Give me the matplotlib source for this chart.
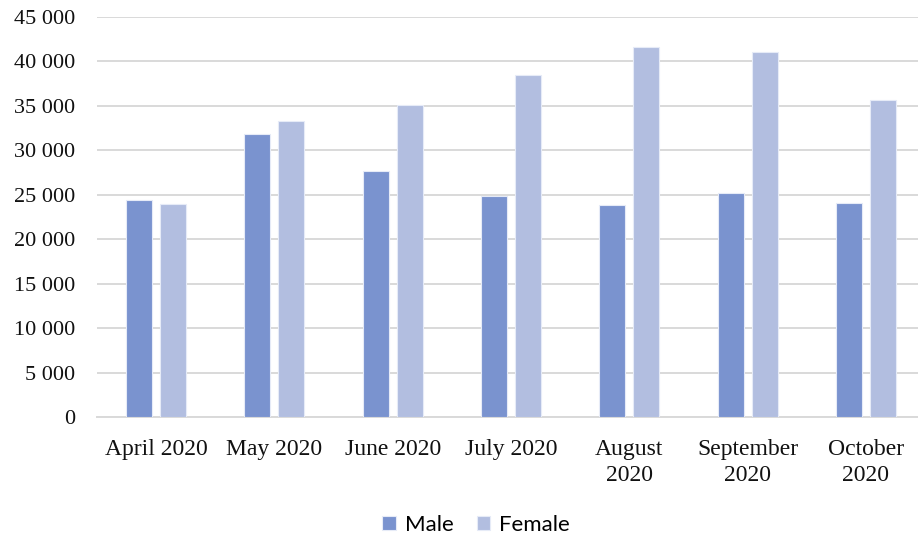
import matplotlib
matplotlib.use("Agg")
import matplotlib.pyplot as plt
import numpy as np

months = ["April 2020", "May 2020", "June 2020", "July 2020",
          "August\n2020", "September\n2020", "October\n2020"]
male = [24450, 31800, 27700, 24900, 23800, 25230, 24050]
female = [24000, 33300, 35060, 38500, 41660, 41030, 35630]
yticks = [0, 5000, 10000, 15000, 20000, 25000, 30000, 35000, 40000, 45000]

male_color = "#7A93CF"
female_color = "#B2BEE0"
grid_color = "#D9D9D9"

fig = plt.figure(figsize=(9.18, 5.40), dpi=100)
ax = fig.add_axes([97 / 918, 123 / 540, 828 / 918, 400 / 540])

x = np.arange(len(months))
bw = 0.22
off = 17 / 118.25
ax.bar(x - off, male, width=bw, color=male_color, edgecolor="#E6EBF7",
       linewidth=0.8, label="Male", zorder=3)
ax.bar(x + off, female, width=bw, color=female_color, edgecolor="#E6EBF7",
       linewidth=0.8, label="Female", zorder=3)

ax.set_xlim(-0.5, len(months) - 0.5)
ax.set_ylim(0, 45000)
ax.set_yticks(yticks)
ax.set_yticklabels([f"{v:,}".replace(",", " ") for v in yticks],
                   family="Liberation Serif", fontsize=16, color="#111111")
ax.set_xticks(x)
ax.set_xticklabels(months, family="Liberation Serif", fontsize=17,
                   color="#111111", linespacing=1.3, va="top")
ax.tick_params(axis="y", length=0, pad=16)
ax.tick_params(axis="x", length=0, pad=16)

ax.grid(axis="y", color=grid_color, linewidth=1.4, zorder=0)
ax.set_axisbelow(True)
for s in ["top", "right", "left"]:
    ax.spines[s].set_visible(False)
ax.spines["bottom"].set_color(grid_color)
ax.spines["bottom"].set_linewidth(1.4)

fig.legend(loc="center", bbox_to_anchor=(476 / 918, 1 - 525 / 540), ncol=2,
           frameon=False, prop={"family": "Lato", "size": 16},
           handlelength=0.6, handleheight=0.6, handletextpad=0.4,
           columnspacing=1.05)

fig.savefig("out.png", dpi=100)
